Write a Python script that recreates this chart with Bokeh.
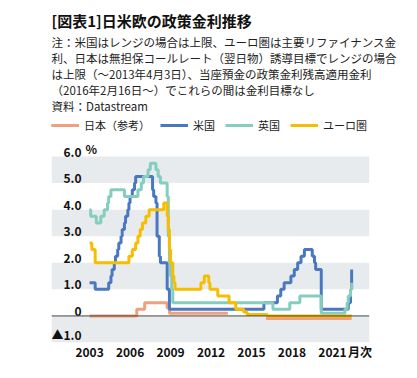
from bokeh.plotting import figure
from bokeh.models import (Range1d, FixedTicker, BoxAnnotation, Span, Legend, LegendItem,
                          Title, ColumnDataSource)
from bokeh.core.properties import value
from bokeh.embed import file_html
from bokeh.resources import INLINE

# ---------------- data (change points: month, policy rate %) ----------------
us_dates = ["2003-01", "2003-06", "2004-06", "2004-08", "2004-09", "2004-11", "2004-12",
            "2005-02", "2005-03", "2005-05", "2005-06", "2005-08", "2005-09", "2005-11",
            "2005-12", "2006-01", "2006-03", "2006-05", "2006-06", "2007-09", "2007-10",
            "2007-12", "2008-01", "2008-03", "2008-04", "2008-10", "2008-12", "2015-12",
            "2016-12", "2017-03", "2017-06", "2017-12", "2018-03", "2018-06", "2018-09",
            "2018-12", "2019-07", "2019-09", "2019-10", "2020-03", "2022-03", "2022-05",
            "2022-06"]
us_rates = [1.25, 1.00, 1.25, 1.50, 1.75, 2.00, 2.25,
            2.50, 2.75, 3.00, 3.25, 3.50, 3.75, 4.00,
            4.25, 4.50, 4.75, 5.00, 5.25, 4.75, 4.50,
            4.25, 3.00, 2.25, 2.00, 1.00, 0.25, 0.50,
            0.75, 1.00, 1.25, 1.50, 1.75, 2.00, 2.25,
            2.50, 2.25, 2.00, 1.75, 0.25, 0.50, 1.00,
            1.75]

uk_dates = ["2003-01", "2003-02", "2003-07", "2003-11", "2004-02", "2004-05", "2004-06",
            "2004-08", "2005-08", "2006-08", "2006-11", "2007-01", "2007-05", "2007-07",
            "2007-12", "2008-02", "2008-04", "2008-10", "2008-11", "2008-12", "2009-01",
            "2009-02", "2009-03", "2016-08", "2017-11", "2018-08", "2020-03", "2021-12",
            "2022-02", "2022-03", "2022-05", "2022-06"]
uk_rates = [4.00, 3.75, 3.50, 3.75, 4.00, 4.25, 4.50,
            4.75, 4.50, 4.75, 5.00, 5.25, 5.50, 5.75,
            5.50, 5.25, 5.00, 4.50, 3.00, 2.00, 1.50,
            1.00, 0.50, 0.25, 0.50, 0.75, 0.10, 0.25,
            0.50, 0.75, 1.00, 1.25]

eu_dates = ["2003-01", "2003-03", "2003-06", "2005-12", "2006-03", "2006-06", "2006-08",
            "2006-10", "2006-12", "2007-03", "2007-06", "2008-07", "2008-10", "2008-11",
            "2008-12", "2009-01", "2009-03", "2009-04", "2009-05", "2011-04", "2011-07",
            "2011-11", "2011-12", "2012-07", "2013-05", "2013-11", "2014-06", "2014-09",
            "2016-03", "2022-06"]
eu_rates = [2.75, 2.50, 2.00, 2.25, 2.50, 2.75, 3.00,
            3.25, 3.50, 3.75, 4.00, 4.25, 3.75, 3.25,
            2.50, 2.00, 1.50, 1.25, 1.00, 1.25, 1.50,
            1.25, 1.00, 0.75, 0.50, 0.25, 0.15, 0.05,
            0.00, 0.00]

jp1_dates = ["2003-01", "2006-07", "2007-02", "2008-10", "2008-12", "2013-04"]
jp1_rates = [0.00, 0.25, 0.50, 0.30, 0.10, 0.10]
jp2_dates = ["2016-02", "2022-06"]
jp2_rates = [-0.10, -0.10]

series_names = ["日本（参考）", "米国", "英国", "ユーロ圏"]
series_colors = ["#F0A07C", "#4A78C0", "#85CDBE", "#F6BE00"]

y_ticks = [-1, 0, 1, 2, 3, 4, 5, 6]
y_tick_labels = ["▲1.0", "0", "1.0", "2.0", "3.0", "4.0", "5.0", "6.0"]
y_unit = "%"
x_ticks = [2003, 2006, 2009, 2012, 2015, 2018, 2021, 2023.04]
x_tick_labels = ["2003", "2006", "2009", "2012", "2015", "2018", "2021", "月次"]
band_bottoms = [-1, 1, 3, 5]

title_text = "[図表1]日米欧の政策金利推移"
note_lines = [
    "注：米国はレンジの場合は上限、ユーロ圏は主要リファイナンス金",
    "利、日本は無担保コールレート（翌日物）誘導目標でレンジの場合",
    "は上限（～2013年4月3日）、当座預金の政策金利残高適用金利",
    "（2016年2月16日～）でこれらの間は金利目標なし",
    "資料：Datastream",
]


def to_x(dates):
    out = []
    for d in dates:
        yy, mm = d.split("-")
        out.append(int(yy) + (int(mm) - 1) / 12.0)
    return out


FONT = "Noto Sans CJK JP"

X0, X1 = 2000.18, 2023.74
Y0, Y1 = -1.0, 7.47

p = figure(width=410, height=370, output_backend="svg", toolbar_location=None,
           x_range=Range1d(X0, X1), y_range=Range1d(Y0, Y1),
           min_border_left=51, min_border_right=41, min_border_bottom=28, min_border_top=117)
p.outline_line_color = None
p.background_fill_color = "white"
p.border_fill_color = "white"
p.xgrid.visible = False
p.ygrid.visible = False

# gray bands
for b in band_bottoms:
    p.add_layout(BoxAnnotation(bottom=b, top=b + 1, fill_color="#E8EBEE", fill_alpha=1.0,
                               line_color=None, level="underlay"))

# zero line
p.add_layout(Span(location=0, dimension="width", line_color="#444444", line_width=1))

# series
lw = 3
r_jp1 = p.step(to_x(jp1_dates), jp1_rates, mode="after", line_color=series_colors[0], line_width=lw)
r_jp2 = p.step(to_x(jp2_dates), jp2_rates, mode="after", line_color=series_colors[0], line_width=lw)
r_us = p.step(to_x(us_dates), us_rates, mode="after", line_color=series_colors[1], line_width=lw)
r_uk = p.step(to_x(uk_dates), uk_rates, mode="after", line_color=series_colors[2], line_width=lw)
r_eu = p.step(to_x(eu_dates), eu_rates, mode="after", line_color=series_colors[3], line_width=lw)

items = [LegendItem(label=series_names[0], renderers=[r_jp1, r_jp2]),
         LegendItem(label=series_names[1], renderers=[r_us]),
         LegendItem(label=series_names[2], renderers=[r_uk]),
         LegendItem(label=series_names[3], renderers=[r_eu])]
legend = Legend(items=items, orientation="horizontal", location="top_left",
                margin=0, padding=0, spacing=10, glyph_width=28, glyph_height=14,
                label_height=14, label_standoff=5, border_line_color=None,
                background_fill_alpha=0, label_text_font=FONT,
                label_text_font_size="11px", label_text_color="#222222")
p.add_layout(legend)

# notes and title
p.add_layout(Title(text="\n".join(note_lines), text_font=FONT, text_font_size="11.5px",
                   text_font_style="normal", text_color="#222222", text_line_height=1.0,
                   standoff=8, offset=0, align="left"), "above")
p.title = Title(text=title_text, text_font=FONT, text_font_size="15px",
                text_font_style="bold", text_color="#111111", standoff=-6, align="left")

# y axis: tick labels drawn inside the plotting area
p.yaxis.visible = False
ysrc = ColumnDataSource(dict(x=[X0] * len(y_ticks), y=y_ticks, t=y_tick_labels))
p.text(x="x", y="y", text="t", source=ysrc, x_offset=30, y_offset=0,
       text_align="right", text_baseline="bottom", text_font=value(FONT),
       text_font_style="bold", text_font_size="12px", text_color="#111111")
p.text(x=[X0], y=[y_ticks[-1]], text=[y_unit], x_offset=34, y_offset=0,
       text_align="left", text_baseline="bottom", text_font=value(FONT),
       text_font_style="bold", text_font_size="12px", text_color="#111111")

# x axis
xax = p.xaxis[0]
xax.ticker = FixedTicker(ticks=x_ticks)
xax.major_label_overrides = {t: s for t, s in zip(x_ticks, x_tick_labels)}
xax.axis_line_color = None
xax.major_tick_line_color = None
xax.minor_tick_line_color = None
xax.major_tick_out = 0
xax.major_tick_in = 0
xax.major_label_standoff = 0
xax.major_label_text_font = FONT
xax.major_label_text_font_style = "bold"
xax.major_label_text_font_size = "12px"
xax.major_label_text_color = "#111111"

open("out.html", "w").write(file_html(p, INLINE))
